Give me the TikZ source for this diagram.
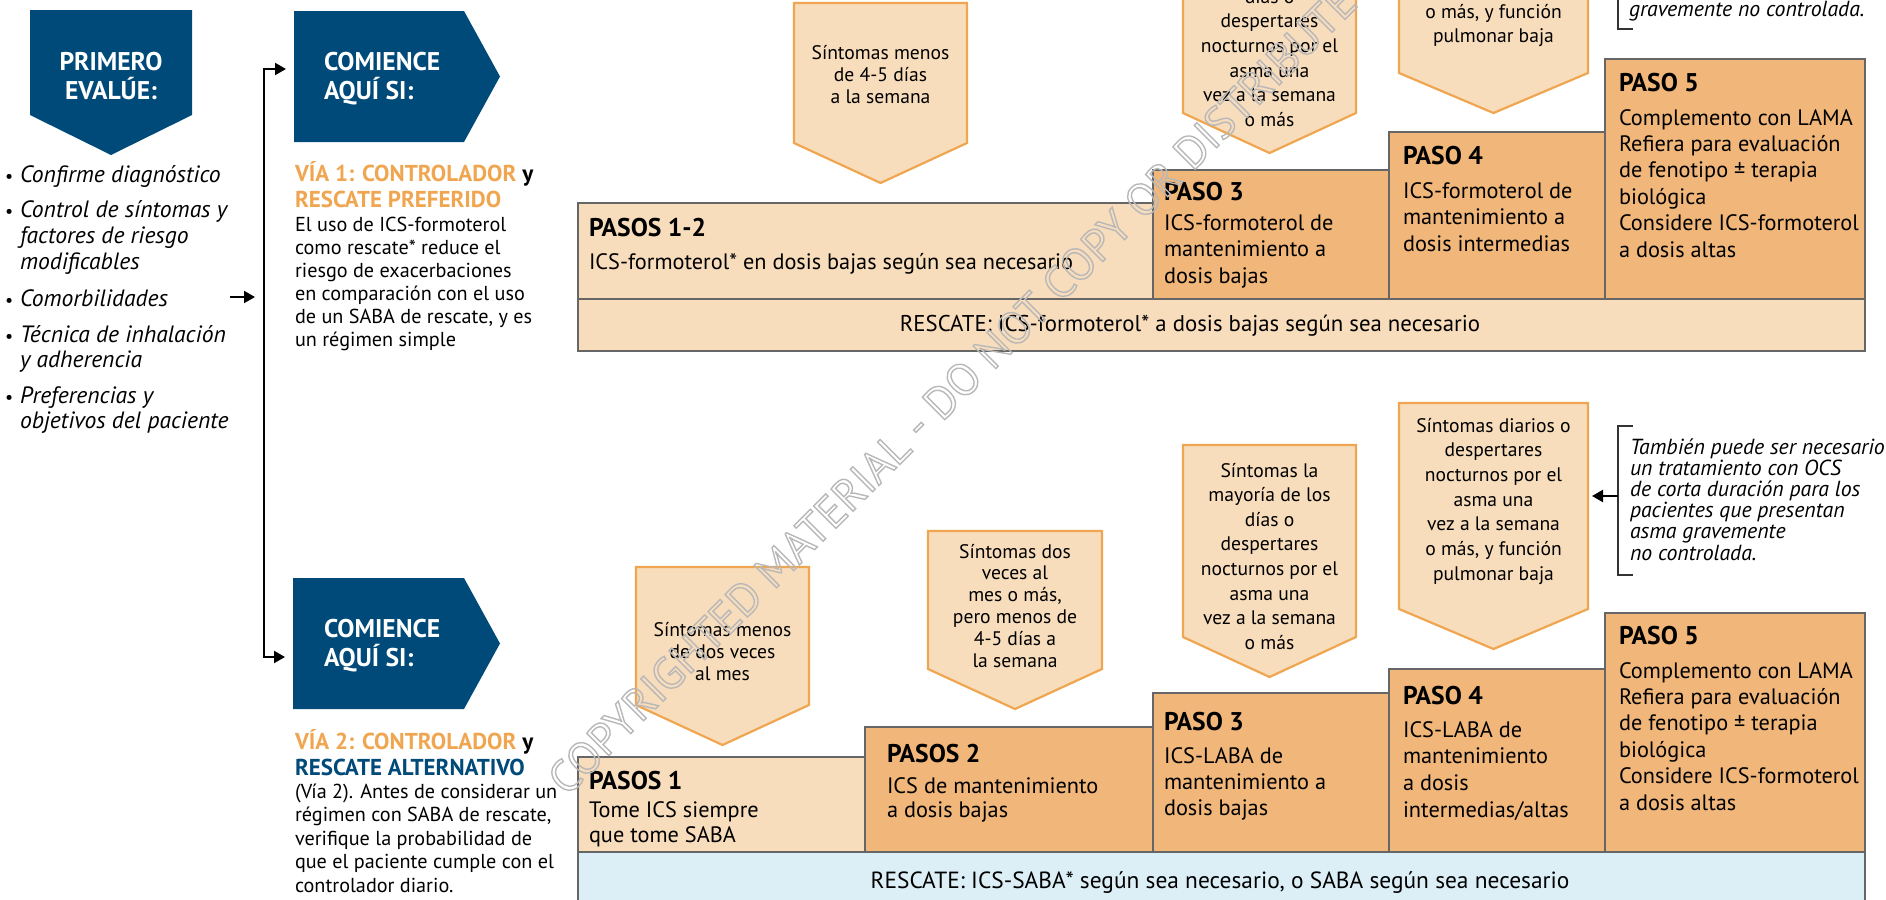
\documentclass[tikz,border=0pt]{standalone}
\usepackage{fontspec}
\setmainfont{PT Sans}
\newfontfamily\headfont{PT Sans Bold}
\usetikzlibrary{arrows.meta,calc}

\definecolor{navy}{HTML}{004A7A}
\definecolor{peach}{HTML}{F8DDBC}
\definecolor{apricot}{HTML}{F0B67A}
\definecolor{amber}{HTML}{F0A650}
\definecolor{skyband}{HTML}{DCEFF7}
\definecolor{edge}{HTML}{666666}

% type sizes (1 unit of the picture = 0.5pt)
\newcommand\fhead{\headfont\fontsize{12.8}{14}\selectfont}
\newcommand\fbody{\fontsize{11.15}{13}\selectfont}
\newcommand\fsym{\fontsize{9.8}{11}\selectfont}
\newcommand\flist{\itshape\fontsize{11.8}{13}\selectfont}
\newcommand\fvia{\fontsize{10.1}{11.5}\selectfont}
\newcommand\fviah{\headfont\fontsize{11.5}{13}\selectfont}
\newcommand\fnote{\itshape\fontsize{10.9}{11}\selectfont}

\tikzset{
  lt/.style={anchor=base west, inner sep=0pt, outer sep=0pt},
  ct/.style={anchor=base, inner sep=0pt, outer sep=0pt},
  frame/.style={inner sep=0pt, outer sep=0pt, anchor=north west},
  stepbox/.style={frame, draw=edge, line width=1.4pt},
  symshape/.style={fill=peach, draw=amber, line width=1.1pt},
  conn/.style={line width=1pt, draw=black},
  tip/.style={-{Triangle[length=5.5pt,width=6pt]}},
  stephead/.style={lt, font=\fhead},
  stepbody/.style={lt, font=\fbody},
  bandtext/.style={ct},
  symtext/.style={ct, font=\fsym},
  listtext/.style={lt, font=\flist},
  viabody/.style={lt, font=\fvia},
  viahead/.style={lt, font=\fviah},
  navyhead/.style={lt, font=\fhead, text=white},
  notetext/.style={lt, font=\fnote},
}

% one node per line: name prefix, style, x, first baseline, line step, lines
\newcommand\txtlines[6]{%
  \foreach \tl [count=\k from 0] in {#6}{%
    \node[#2] (#1-\k) at (#3,{#4+\k*(#5)}) {\tl};}}

% step box: name, fill, x1, y1, x2, y2
\newcommand\stepat[6]{%
  \node[stepbox, fill=#2, minimum width={(#5-(#3))*0.5pt},
        minimum height={(#6-(#4))*0.5pt}] (#1) at (#3,#4) {};}

% symptom pentagon pointing down: name, x1, x2, top, shoulder
\newcommand\sympent[5]{%
  \node[frame, minimum width={(#3-(#2))*0.5pt},
        minimum height={(#5-(#4))*0.5pt}] (#1) at (#2,#4) {};
  \path[symshape] (#1.north west) -- (#1.north east) -- (#1.south east)
    -- ($(#1.south)+(0,40)$) -- (#1.south west) -- cycle;}

\begin{document}
\begin{tikzpicture}[x=0.5pt,y=-0.5pt]
\useasboundingbox (0,0) rectangle (1886,900);
\clip (0,0) rectangle (1886,900);

% ---------- left column ----------
\node[frame, minimum width=81pt, minimum height=52.5pt] (first) at (30,10) {};
\fill[navy] (first.north west) -- (first.north east) -- (first.south east)
  -- ($(first.south)+(0,40)$) -- (first.south west) -- cycle;
\node[ct, font=\fhead, text=white] (first-t0) at (111,70) {PRIMERO};
\node[ct, font=\fhead, text=white] (first-t1) at (111,99) {EVALÚE:};

\foreach \yy/\nm in {182/d1,217/d2,306/d3,342/d4,403/d5}{%
  \node[lt, font=\fontsize{9}{10}\selectfont] (\nm) at (5,\yy) {•};}
\txtlines{b1}{listtext}{20}{182}{25.5}{Confirme diagnóstico}
\txtlines{b2}{listtext}{20}{217}{26}{Control de síntomas y,factores de riesgo,modificables}
\txtlines{b3}{listtext}{20}{306}{25.5}{Comorbilidades}
\txtlines{b4}{listtext}{20}{342}{25.5}{Técnica de inhalación,y adherencia}
\txtlines{b5}{listtext}{20}{403}{25.5}{Preferencias y,objetivos del paciente}

% start boxes
\node[frame, minimum width=85pt, minimum height=65.5pt] (com1) at (294,11) {};
\fill[navy] (com1.north west) -- (com1.north east) -- ($(com1.east)+(36,0)$)
  -- (com1.south east) -- (com1.south west) -- cycle;
\txtlines{com1t}{navyhead}{324}{70}{29}{COMIENCE,AQUÍ SI:}

\node[frame, minimum width=85.5pt, minimum height=65.5pt] (com2) at (293,578) {};
\fill[navy] (com2.north west) -- (com2.north east) -- ($(com2.east)+(36,0)$)
  -- (com2.south east) -- (com2.south west) -- cycle;
\txtlines{com2t}{navyhead}{324}{637}{29}{COMIENCE,AQUÍ SI:}

% branch connector
\coordinate (jt) at (264,69);
\coordinate (jb) at (264,657);
\draw[conn, {Triangle[length=5.5pt,width=6pt]}-{Triangle[length=5.5pt,width=6pt]}]
  ($(com1.west |- jt)+(-8,0)$) -- (jt) -- (jb) -- ($(com2.west |- jb)+(-8,0)$);
\coordinate (ca) at (230,297);
\coordinate (cb) at (255,297);
\draw[conn, tip] (ca) -- (cb);

% track descriptions
\node[viahead] (via1h0) at (295,181) {{\color{amber}VÍA 1: CONTROLADOR} y};
\node[viahead, text=amber] (via1h1) at (295,207) {RESCATE PREFERIDO};
\txtlines{via1}{viabody}{295}{231}{23}{El uso de ICS-formoterol,como rescate* reduce el,riesgo de exacerbaciones,en comparación con el uso,{de un SABA de rescate, y es},un régimen simple}

\node[viahead] (via2h0) at (295,749) {{\color{amber}VÍA 2: CONTROLADOR} y};
\node[viahead, text=navy] (via2h1) at (295,775) {RESCATE ALTERNATIVO};
\txtlines{via2}{viabody}{295}{798}{23.5}{(Vía 2). Antes de considerar un,{régimen con SABA de rescate,},verifique la probabilidad de,que el paciente cumple con el,controlador diario.}

% ---------- track 1 ----------
\sympent{symA1}{794}{967}{3}{143}
\sympent{symA3}{1183}{1356}{-78}{113}
\sympent{symA4}{1399}{1588}{-134}{73}
\txtlines{symA1t}{symtext}{880.5}{59}{22}{Síntomas menos,de 4-5 días,a la semana}
\txtlines{symA3t}{symtext}{1269.5}{3.2}{24.6}{días o,despertares,nocturnos por el,asma una,vez a la semana,o más}
\txtlines{symA4t}{symtext}{1493.5}{18}{24.7}{{o más, y función},pulmonar baja}

\stepat{stepA12}{peach}{578}{203}{1153}{299}
\stepat{stepA3}{apricot}{1153}{170}{1389}{299}
\stepat{stepA4}{apricot}{1389}{132}{1605}{299}
\stepat{stepA5}{apricot}{1605}{59}{1865}{299}
\stepat{bandA}{peach}{578}{299}{1865}{351}

\node[stephead] (stA12h) at (589,236) {PASOS 1-2};
\node[stepbody] (stA12b) at (589,269) {ICS-formoterol* en dosis bajas según sea necesario};
\node[stephead] (stA3h) at (1164,200) {PASO 3};
\txtlines{stA3}{stepbody}{1164}{230}{26.5}{ICS-formoterol de,mantenimiento a,dosis bajas}
\node[stephead] (stA4h) at (1403,164) {PASO 4};
\txtlines{stA4}{stepbody}{1403}{198}{26.5}{ICS-formoterol de,mantenimiento a,dosis intermedias}
\node[stephead] (stA5h) at (1619,91) {PASO 5};
\txtlines{stA5}{stepbody}{1619}{125}{26.4}{Complemento con LAMA,Refiera para evaluación,de fenotipo ± terapia,biológica,Considere ICS-formoterol,a dosis altas}
\node[bandtext, font=\fontsize{11.4}{13}\selectfont] (bandAt) at (1190,331) {RESCATE: ICS-formoterol* a dosis bajas según sea necesario};

% note, track 1
\coordinate (naTop) at (1618,-100);
\coordinate (naBot) at (1618,29);
\draw[conn, draw=black!80] (naTop) -- (naBot) -- ++(15,0);
\node[notetext] (noteA) at (1629,16) {gravemente no controlada.};

% ---------- track 2 ----------
\sympent{symB1}{636}{809}{567}{705}
\sympent{symB2}{928}{1102}{531}{669}
\sympent{symB3}{1183}{1356}{445}{637}
\sympent{symB4}{1399}{1588}{403}{609}
\txtlines{symB1t}{symtext}{722.5}{636}{22}{Síntomas menos,de dos veces,al mes}
\txtlines{symB2t}{symtext}{1015}{558}{21.8}{Síntomas dos,veces al,{mes o más,},pero menos de,4-5 días a,la semana}
\txtlines{symB3t}{symtext}{1269.5}{477}{24.6}{Síntomas la,mayoría de los,días o,despertares,nocturnos por el,asma una,vez a la semana,o más}
\txtlines{symB4t}{symtext}{1493.5}{432}{24.7}{Síntomas diarios o,despertares,nocturnos por el,asma una,vez a la semana,{o más, y función},pulmonar baja}

\stepat{stepB1}{peach}{578}{757}{865}{852}
\stepat{stepB2}{apricot}{865}{727}{1153}{852}
\stepat{stepB3}{apricot}{1153}{693}{1389}{852}
\stepat{stepB4}{apricot}{1389}{669}{1605}{852}
\stepat{stepB5}{apricot}{1605}{613}{1865}{852}
\stepat{bandB}{skyband}{578}{852}{1865}{930}

\node[stephead] (stB1h) at (589,789) {PASOS 1};
\txtlines{stB1}{stepbody}{589}{817}{25}{Tome ICS siempre,que tome SABA}
\node[stephead] (stB2h) at (887,762) {PASOS 2};
\txtlines{stB2}{stepbody}{887}{793}{24.5}{ICS de mantenimiento,a dosis bajas}
\node[stephead] (stB3h) at (1164,730) {PASO 3};
\txtlines{stB3}{stepbody}{1164}{763}{26.3}{ICS-LABA de,mantenimiento a,dosis bajas}
\node[stephead] (stB4h) at (1403,704) {PASO 4};
\txtlines{stB4}{stepbody}{1403}{737}{26.7}{ICS-LABA de,mantenimiento,a dosis,intermedias/altas}
\node[stephead] (stB5h) at (1619,644) {PASO 5};
\txtlines{stB5}{stepbody}{1619}{678}{26.4}{Complemento con LAMA,Refiera para evaluación,de fenotipo ± terapia,biológica,Considere ICS-formoterol,a dosis altas}
\node[bandtext, font=\fontsize{11.7}{13}\selectfont] (bandBt) at (1220,888) {RESCATE: ICS-SABA* según sea necesario, o SABA según sea necesario};

% note, track 2
\coordinate (nbTop) at (1617.5,426);
\coordinate (nbBot) at (1617.5,575);
\coordinate (nbMid) at (1617.5,496);
\draw[conn, draw=black!80] ($(nbTop)+(15,0)$) -- (nbTop) -- (nbBot) -- ++(15,0);
\draw[conn, tip] (nbMid) -- ($(symB4.east |- nbMid)+(4,0)$);
\txtlines{noteB}{notetext}{1630}{454}{21.2}{También puede ser necesario,un tratamiento con OCS,de corta duración para los,pacientes que presentan,asma gravemente,no controlada.}

% ---------- watermark ----------
\node[rotate=45, inner sep=0pt, text=black!28, font=\fontsize{22.5}{24}\selectfont] (wm) at (952,390)
  {\special{pdf:literal direct 1 Tr 0.7 w}COPYRIGHTED MATERIAL - DO NOT COPY OR DISTRIBUTE\special{pdf:literal direct 0 Tr}};
\end{tikzpicture}
\end{document}
